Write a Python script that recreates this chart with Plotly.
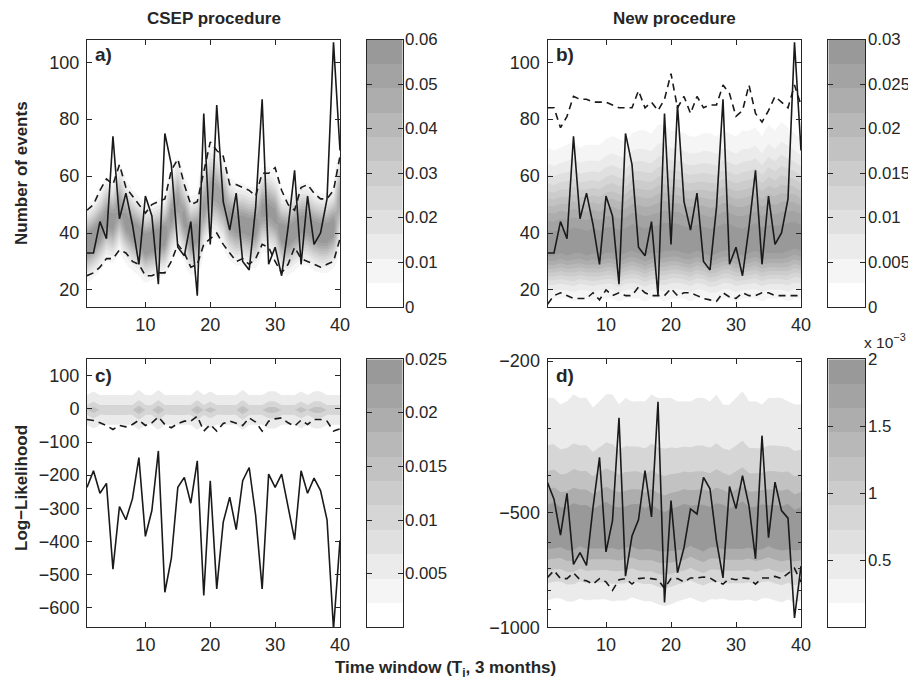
import numpy as np
import plotly.graph_objects as go

W, H = 916, 683          # window size
OFF = 8                  # page body margin in the browser
FW, FH = W - OFF, H - OFF
windows = list(range(1, 41))

# ---------------- data ----------------
# observed number of events per time window (panels a, b)
obs_counts = [33, 33, 44, 38, 74, 45, 54, 43, 29, 53, 46, 22, 75, 64, 35, 32, 44, 18, 82, 36,
              85, 51, 41, 54, 30, 27, 49, 87, 29, 35, 25, 42, 62, 29, 53, 36, 40, 52, 107, 69]
# CSEP procedure: forecast rate and 95% bounds (panel a)
csep_rate = [36, 38, 41, 45, 44, 49, 44, 41, 39, 36, 37, 38, 39, 46, 51, 45, 39, 40, 49, 55,
             54, 51, 45, 43, 43, 42, 42, 48, 48, 46, 40, 39, 41, 43, 43, 41, 40, 40, 42, 52]
csep_upper = [48, 50, 55, 59, 57, 64, 56, 53, 50, 47, 50, 51, 52, 62, 66, 57, 50, 51, 62, 72,
              69, 67, 57, 57, 56, 55, 53, 61, 61, 63, 55, 50, 48, 56, 57, 54, 52, 52, 55, 67]
csep_lower = [25, 26, 28, 31, 31, 34, 33, 30, 29, 25, 25, 26, 26, 30, 36, 33, 28, 29, 36, 38,
              40, 36, 33, 30, 31, 29, 31, 36, 35, 30, 26, 29, 35, 31, 30, 29, 28, 29, 30, 38]
# New procedure: bounds and shaded distribution (panel b)
new_upper = [84, 84, 77, 81, 88, 87, 87, 86, 86, 86, 85, 84, 84, 84, 90, 84, 86, 83, 87, 96,
             84, 88, 82, 88, 84, 85, 85, 92, 89, 81, 83, 92, 82, 79, 83, 88, 86, 84, 92, 85]
new_lower = [15, 18, 19, 18, 17, 17, 17, 19, 16.5, 20, 18, 19, 18, 18, 21, 19, 18, 18, 18, 20.5,
             18, 19, 19, 18, 17, 16.5, 16, 19, 17.5, 17, 19, 18, 18, 19, 19, 18, 18, 18, 18, 18]
new_mode = [35, 35, 36, 35, 36, 36, 35, 36, 35, 36, 36, 35, 36, 37, 36, 35, 36, 36, 37, 37,
            37, 36, 36, 37, 36, 35, 36, 37, 37, 36, 35, 36, 37, 36, 36, 36, 36, 37, 38, 37]
new_shade_top = [70, 69, 70, 71, 72, 70, 71, 71, 71, 73, 74, 73, 72, 75, 76, 76, 75, 78, 78, 76,
                 76, 75, 74, 74, 75, 75, 74, 76, 75, 74, 76, 76, 77, 74, 78, 76, 79, 77, 75, 73]
new_shade_bot = [17, 17, 17, 17, 16, 17, 17, 16, 17, 17, 17, 16, 17, 17, 17, 16, 17, 17, 16, 17,
                 17, 17, 16, 17, 17, 16, 16, 17, 17, 16, 17, 17, 17, 16, 17, 17, 17, 16, 17, 17]
# Log-likelihood, CSEP procedure (panel c)
ll_obs_csep = [-237, -187, -255, -225, -484, -295, -335, -272, -147, -385, -307, -127, -554, -452,
               -237, -207, -285, -157, -564, -217, -544, -342, -267, -365, -217, -177, -322, -544,
               -197, -237, -197, -292, -395, -187, -255, -209, -247, -335, -665, -397]
ll_low_csep = [-32, -35, -42, -50, -62, -50, -54, -47, -34, -50, -42, -24, -47, -57, -44, -37,
               -37, -22, -67, -47, -67, -44, -37, -44, -50, -27, -40, -67, -37, -30, -27, -42,
               -52, -34, -47, -32, -32, -37, -67, -60]
ll_center_csep = [-3] * 40
ll_peak_csep = [0.0148, 0.019, 0.0148, 0.0148, 0.0148, 0.0148, 0.0148, 0.0148, 0.021, 0.0148,
                0.0148, 0.021, 0.0148, 0.0148, 0.0148, 0.0148, 0.0148, 0.021, 0.0148, 0.019,
                0.0148, 0.0148, 0.0148, 0.0148, 0.021, 0.0148, 0.0148, 0.0148, 0.019, 0.019,
                0.0148, 0.0148, 0.0148, 0.019, 0.0148, 0.019, 0.019, 0.0148, 0.0148, 0.0148]
# Log-likelihood, new procedure (panel d)
ll_obs_new = [-417, -461, -573, -445, -684, -637, -688, -485, -358, -634, -525, -282, -734, -576,
              -522, -388, -513, -256, -860, -465, -719, -618, -489, -504, -404, -433, -593, -742,
              -427, -488, -400, -480, -661, -314, -582, -416, -494, -517, -945, -691]
ll_low_new = [-740, -710, -745, -745, -720, -750, -755, -770, -745, -760, -800, -750, -745, -770,
              -745, -742, -745, -750, -790, -745, -745, -760, -742, -742, -738, -742, -760, -770,
              -745, -750, -742, -745, -770, -742, -742, -735, -745, -720, -700, -760]
ll_center_new = [-550, -545, -550, -555, -550, -545, -550, -555, -550, -545, -550, -555, -550,
                 -545, -550, -555, -550, -560, -565, -560, -555, -550, -545, -550, -555, -550,
                 -545, -550, -555, -550, -545, -550, -555, -550, -545, -550, -555, -550, -560, -555]
ll_halfwidth_new = [300, 295, 290, 300, 305, 295, 300, 290, 295, 300, 305, 295, 300, 290, 295,
                    300, 305, 310, 315, 310, 300, 295, 290, 300, 305, 295, 300, 290, 295, 300,
                    305, 295, 300, 290, 295, 300, 305, 295, 300, 295]
ll_peak_new = [2.3e-3, 2.35e-3, 2.25e-3, 2.3e-3, 2.35e-3, 2.25e-3, 2.3e-3, 2.25e-3, 2.3e-3, 2.35e-3,
               2.25e-3, 2.3e-3, 2.25e-3, 2.3e-3, 2.35e-3, 2.25e-3, 2.3e-3, 2.25e-3, 2.2e-3, 2.25e-3,
               2.3e-3, 2.35e-3, 2.25e-3, 2.3e-3, 2.35e-3, 2.25e-3, 2.3e-3, 2.35e-3, 2.25e-3, 2.3e-3,
               2.35e-3, 2.25e-3, 2.3e-3, 2.35e-3, 2.25e-3, 2.3e-3, 2.3e-3, 2.35e-3, 2.25e-3, 2.3e-3]

# colour-bar tick labels
cbar_a_ticks = [0, 0.01, 0.02, 0.03, 0.04, 0.05, 0.06]
cbar_b_ticks = [0, 0.005, 0.01, 0.015, 0.02, 0.025, 0.03]
cbar_c_ticks = [0.005, 0.01, 0.015, 0.02, 0.025]
cbar_d_ticks = [0.5, 1, 1.5, 2]
ll_d_ticks = [-200, -500, -1000]
ll_d_minor = [-300, -400, -600, -700, -800, -900]

GRAYS = ['#ffffff', '#f5f5f5', '#ebebeb', '#e0e0e0', '#d6d6d6', '#cccccc',
         '#c2c2c2', '#b8b8b8', '#adadad', '#a3a3a3', '#999999']
TXT = '#262626'
FONT = 'Liberation Sans, Arial, Helvetica, sans-serif'

# ---------------- layout helpers (window pixels -> paper fractions) ----------------
def xd(l, r):
    return [(l - OFF) / FW, (r - OFF) / FW]


def yd(t, b):
    return [1 - (b - OFF) / FH, 1 - (t - OFF) / FH]


PANEL = {
    'a': (87, 340, 39.5, 307),
    'b': (547.5, 801, 39.5, 307),
    'c': (87, 340, 359.3, 627.3),
    'd': (547.5, 801, 359.3, 627.3),
}
CBAR = {
    'a': (366.7, 402.7, 39.5, 307),
    'b': (828.3, 865, 39.5, 307),
    'c': (366.7, 402.7, 359.3, 627.3),
    'd': (828.3, 865, 359.3, 627.3),
}


def contour_scale(levels, zmax):
    n = len(levels)
    cols = [GRAYS[0]] + [GRAYS[min(10, int(L / zmax * 11 + 1e-6))] for L in levels]
    return [[j / n, cols[j]] for j in range(n + 1)]


def contour_trace(x, y, z, levels, zmax, ax):
    return go.Contour(
        x=x, y=y, z=z, xaxis='x' + ax, yaxis='y' + ax,
        autocontour=False,
        contours=dict(start=levels[0], end=levels[-1], size=levels[1] - levels[0],
                      coloring='fill', showlines=False),
        line=dict(width=0), colorscale=contour_scale(levels, zmax),
        showscale=False, hoverinfo='skip')


fig = go.Figure()
x = np.array(windows, dtype=float)

# ---- panel a ----
ya = np.arange(10, 112, 0.5)
lam = np.array(csep_rate, dtype=float)
Za = np.exp(-(ya[:, None] - lam[None, :]) ** 2 / (2 * lam[None, :])) / np.sqrt(2 * np.pi * lam[None, :])
lev_a = [k * 0.06 / 11 for k in range(1, 11)]
fig.add_trace(contour_trace(x, ya, Za, lev_a, 0.06, ''))

# ---- panel b ----
yb = np.arange(10, 112, 0.5)
Pb = 0.029
lev_b = [k * 0.03 / 11 for k in range(1, 11)]
k0 = np.sqrt(2 * np.log(Pb / lev_b[0]))
mode = np.array(new_mode, float)
s_hi = (np.array(new_shade_top, float) - mode) / k0
s_lo = (mode - np.array(new_shade_bot, float)) / k0
d = yb[:, None] - mode[None, :]
s = np.where(d > 0, s_hi[None, :], s_lo[None, :])
Zb = Pb * np.exp(-d ** 2 / (2 * s ** 2))
fig.add_trace(contour_trace(x, yb, Zb, lev_b, 0.03, '2'))

# ---- panel c ----
yc = np.arange(-140, 120, 1.0)
cc = np.array(ll_center_csep, float)
pc = np.array(ll_peak_csep, float)
Zc = pc[None, :] * np.exp(-(np.abs(yc[:, None] - cc[None, :]) / 41.0) ** 0.93)
lev_c = [0.005, 0.01, 0.015, 0.02]
fig.add_trace(contour_trace(x, yc, Zc, lev_c, 0.025, '3'))

# ---- panel d (log axis of -LL) ----
lld = -np.arange(185, 1060, 2.0)
yd_plot = -np.log10(-lld)
cd = np.array(ll_center_new, float)
pdk = np.array(ll_peak_new, float)
lev_d = [2 * k * 2e-3 / 11 for k in range(1, 6)]
# width parameter chosen so that the outermost level sits at the read half-width
bd = np.array(ll_halfwidth_new, float) / np.log(pdk / lev_d[0]) ** (1 / 1.45)
Zd = pdk[None, :] * np.exp(-(np.abs(lld[:, None] - cd[None, :]) / bd[None, :]) ** 1.45)
fig.add_trace(contour_trace(x, yd_plot, Zd, lev_d, 2e-3, '4'))

line_solid = dict(color='#1a1a1a', width=1.6)
line_dash = dict(color='#1a1a1a', width=1.6, dash='7px,5px')


def tr(xv, yv, ax, style):
    return go.Scatter(x=xv, y=yv, xaxis='x' + ax, yaxis='y' + ax, mode='lines',
                      line=style, hoverinfo='skip', showlegend=False)


fig.add_trace(tr(windows, csep_upper, '', line_dash))
fig.add_trace(tr(windows, csep_lower, '', line_dash))
fig.add_trace(tr(windows, obs_counts, '', line_solid))
fig.add_trace(tr(windows, new_upper, '2', line_dash))
fig.add_trace(tr(windows, new_lower, '2', line_dash))
fig.add_trace(tr(windows, obs_counts, '2', line_solid))
fig.add_trace(tr(windows, ll_low_csep, '3', line_dash))
fig.add_trace(tr(windows, ll_obs_csep, '3', line_solid))
fig.add_trace(tr(windows, [-np.log10(-v) for v in ll_low_new], '4', line_dash))
fig.add_trace(tr(windows, [-np.log10(-v) for v in ll_obs_new], '4', line_solid))

# ---- colour bars (drawn as heatmaps on their own axes) ----
cb_scale = [[k / 10, GRAYS[k]] for k in range(11)]
for ax, zmax in (('5', 0.06), ('6', 0.03), ('7', 0.025), ('8', 2.0)):
    fig.add_trace(go.Heatmap(
        x=[0.5], y=[(k + 0.5) * zmax / 11 for k in range(11)], z=[[k] for k in range(11)],
        xaxis='x' + ax, yaxis='y' + ax, colorscale=cb_scale, zmin=0, zmax=10,
        showscale=False, hoverinfo='skip'))

# ---------------- axes ----------------
base = dict(showline=True, linecolor=TXT, linewidth=1, mirror='allticks', ticks='inside',
            ticklen=5, tickwidth=1, tickcolor=TXT, showgrid=False, zeroline=False,
            automargin=False, tickfont=dict(family=FONT, size=18, color=TXT))
layout = dict(width=FW, height=FH, autosize=False,
              margin=dict(l=0, r=0, t=0, b=0, pad=0, autoexpand=False),
              paper_bgcolor='white', plot_bgcolor='white', showlegend=False)

xt = dict(range=[1, 40], tickvals=[10, 20, 30, 40], ticklabelstandoff=1)
for name, ax in (('a', ''), ('b', '2'), ('c', '3'), ('d', '4')):
    l, r, t, b = PANEL[name]
    layout['xaxis' + ax] = dict(base, domain=xd(l, r), anchor='y' + ax, **xt)
layout['yaxis'] = dict(base, domain=yd(*PANEL['a'][2:]), anchor='x', range=[14, 108],
                       tickvals=[20, 40, 60, 80, 100], ticklabelstandoff=3)
layout['yaxis2'] = dict(base, domain=yd(*PANEL['b'][2:]), anchor='x2', range=[14, 108],
                        tickvals=[20, 40, 60, 80, 100], ticklabelstandoff=3)
layout['yaxis3'] = dict(base, domain=yd(*PANEL['c'][2:]), anchor='x3', range=[-660, 150],
                        tickvals=[-600, -500, -400, -300, -200, -100, 0, 100], ticklabelstandoff=3)
layout['yaxis4'] = dict(base, domain=yd(*PANEL['d'][2:]), anchor='x4',
                        range=[-3.0, -np.log10(197.9)],
                        tickvals=[-np.log10(-v) for v in ll_d_ticks],
                        ticktext=['\u2212' + str(-v) for v in ll_d_ticks], ticklabelstandoff=3,
                        minor=dict(tickvals=[-np.log10(-v) for v in ll_d_minor], ticks='inside',
                                   ticklen=3, tickcolor=TXT))

anns = []
def ann(text, xp, yp, size=17, angle=0, xanchor='center', yanchor='middle'):
    anns.append(dict(text=text, x=(xp - OFF) / FW, y=1 - (yp - OFF) / FH, xref='paper',
                     yref='paper', showarrow=False, textangle=angle, xanchor=xanchor,
                     yanchor=yanchor, font=dict(family=FONT, size=size, color=TXT)))

for name, ax, zmax, ticks in (('a', '5', 0.06, cbar_a_ticks), ('b', '6', 0.03, cbar_b_ticks),
                              ('c', '7', 0.025, cbar_c_ticks), ('d', '8', 2.0, cbar_d_ticks)):
    l, r, t, b = CBAR[name]
    layout['xaxis' + ax] = dict(domain=xd(l, r), anchor='y' + ax, range=[0, 1], showline=True,
                                linecolor=TXT, linewidth=1, mirror=True, ticks='',
                                automargin=False,
                                showticklabels=False, showgrid=False, zeroline=False)
    layout['yaxis' + ax] = dict(base, domain=yd(t, b), anchor='x' + ax, range=[0, zmax],
                                side='right', tickvals=ticks, showticklabels=False)
    # tick labels of the colour bar, placed just right of the bar
    for v in ticks:
        ypx = b - (b - t) * v / zmax
        ann('%g' % v, r + 0.5, ypx, size=16.8, xanchor='left')

ann('<b>CSEP procedure</b>', 213.5, 18)
ann('<b>New procedure</b>', 674, 18)
ann('<b>Number of events</b>', 21, 173, angle=-90)
ann('<b>Log\u2212Likelihood</b>', 21, 488, angle=-90)
ann('<b>Time window (T<sub>i</sub>, 3 months)</b>', 445, 669)
ann('<b>a)</b>', 93, 55, size=19, xanchor='left')
ann('<b>b)</b>', 553.5, 55, size=19, xanchor='left')
ann('<b>c)</b>', 93, 375, size=19, xanchor='left')
ann('<b>d)</b>', 553.5, 375, size=19, xanchor='left')
ann('x 10<sup>\u22123</sup>', 862, 341, size=15.5, xanchor='left')
layout['annotations'] = anns

fig.update_layout(**layout)
fig.write_html('out.html')
